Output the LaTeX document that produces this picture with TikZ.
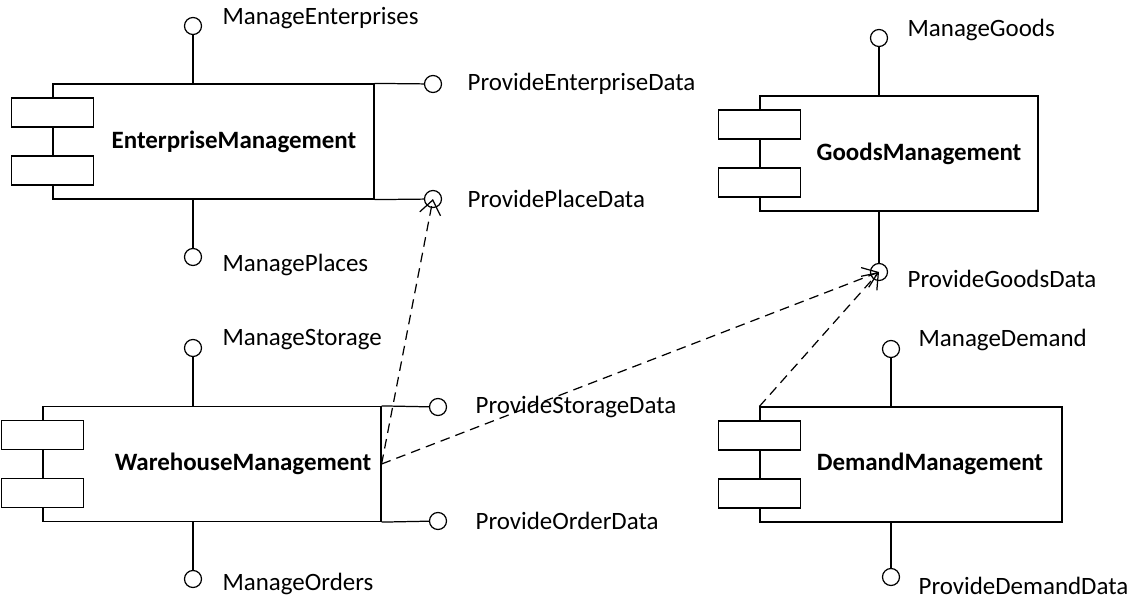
\documentclass[tikz,border=0pt]{standalone}
\usepackage{fontspec}
\setmainfont{Carlito}
\usetikzlibrary{arrows.meta, positioning}

\begin{document}
\begin{tikzpicture}[x=0.02cm, y=-0.02cm, line width=0.7pt,
  every node/.style={font=\fontsize{14.2}{17}\selectfont},
  comp/.style={draw, fill=white, inner sep=0pt, minimum height=2.30cm},
  part/.style={draw, fill=white, minimum width=1.64cm, minimum height=0.58cm, inner sep=0pt},
  iface/.style={draw, circle, fill=white, minimum size=0.34cm, inner sep=0pt},
  iname/.style={anchor=west, inner sep=0pt},
  title/.style={font=\fontsize{14.2}{17}\selectfont\bfseries},
  dep/.style={dash pattern=on 5.5pt off 3.5pt, -{Straight Barb[length=8pt,width=12pt]}}]
\useasboundingbox (0,0) rectangle (1133,599);
% Components
\node[comp, minimum width=6.42cm] (Enterprise) at (213.5,141.5) {};
\node[comp, minimum width=6.76cm] (Warehouse) at (212,464) {};
\node[comp, minimum width=5.56cm] (Goods) at (899,153.5) {};
\node[comp, minimum width=6.04cm] (Demand) at (911,464.5) {};
% Small rectangles on the left edges
\node[part] (EnterpriseTop) at ([yshift=0.58cm]Enterprise.west) {};
\node[part] (EnterpriseBottom) at ([yshift=-0.58cm]Enterprise.west) {};
\node[part] (WarehouseTop) at ([yshift=0.58cm]Warehouse.west) {};
\node[part] (WarehouseBottom) at ([yshift=-0.58cm]Warehouse.west) {};
\node[part] (GoodsTop) at ([yshift=0.58cm]Goods.west) {};
\node[part] (GoodsBottom) at ([yshift=-0.58cm]Goods.west) {};
\node[part] (DemandTop) at ([yshift=0.58cm]Demand.west) {};
\node[part] (DemandBottom) at ([yshift=-0.58cm]Demand.west) {};
% Titles
\node[title] (EnterpriseTitle) at (234,142) {EnterpriseManagement};
\node[title] (WarehouseTitle) at (243,464) {WarehouseManagement};
\node[title] (GoodsTitle) at (919,154) {GoodsManagement};
\node[title] (DemandTitle) at (930,464) {DemandManagement};
% Interfaces
\node[iface] (ManageEnterprises) at (193,26) {};
\node[iface] (ManagePlaces) at (193,257) {};
\node[iface] (ProvideEnterpriseData) at (433,84) {};
\node[iface] (ProvidePlaceData) at (433,199) {};
\node[iface] (ManageStorage) at (193,348) {};
\node[iface] (ManageOrders) at (193,579) {};
\node[iface] (ProvideStorageData) at (438,407) {};
\node[iface] (ProvideOrderData) at (438,521) {};
\node[iface] (ManageGoods) at (879,38) {};
\node[iface] (ProvideGoodsData) at (879,272) {};
\node[iface] (ManageDemand) at (891,349) {};
\node[iface] (ProvideDemandData) at (891,577) {};
% Interface names
\node[iname] (ManageEnterprisesText) at (222,18) {ManageEnterprises};
\node[iname] (ManagePlacesText) at (222,265) {ManagePlaces};
\node[iname] (ProvideEnterpriseDataText) at (467,84) {ProvideEnterpriseData};
\node[iname] (ProvidePlaceDataText) at (467,199) {ProvidePlaceData};
\node[iname] (ManageStorageText) at (222,340) {ManageStorage};
\node[iname] (ManageOrdersText) at (222,584) {ManageOrders};
\node[iname] (ProvideStorageDataText) at (475,407) {ProvideStorageData};
\node[iname] (ProvideOrderDataText) at (475,521) {ProvideOrderData};
\node[iname] (ManageGoodsText) at (907,30) {ManageGoods};
\node[iname] (ProvideGoodsDataText) at (907,279) {ProvideGoodsData};
\node[iname] (ManageDemandText) at (918,340) {ManageDemand};
\node[iname] (ProvideDemandDataText) at (918,586) {ProvideDemandData};
% Lollipop stems
\draw (Enterprise.north -| ManageEnterprises) -- (ManageEnterprises);
\draw (Enterprise.south -| ManagePlaces) -- (ManagePlaces);
\draw (Enterprise.north east) -- (ProvideEnterpriseData);
\draw (Enterprise.south east) -- (ProvidePlaceData);
\draw (Warehouse.north -| ManageStorage) -- (ManageStorage);
\draw (Warehouse.south -| ManageOrders) -- (ManageOrders);
\draw (Warehouse.north east) -- (ProvideStorageData);
\draw (Warehouse.south east) -- (ProvideOrderData);
\draw (Goods.north -| ManageGoods) -- (ManageGoods);
\draw (Goods.south -| ProvideGoodsData) -- (ProvideGoodsData);
\draw (Demand.north -| ManageDemand) -- (ManageDemand);
\draw (Demand.south -| ProvideDemandData) -- (ProvideDemandData);
% Dependencies
\draw[dep] (Warehouse.east) -- (ProvidePlaceData.center);
\draw[dep] (Warehouse.east) -- (ProvideGoodsData.center);
\draw[dep] (Demand.north west) -- (ProvideGoodsData.center);
\end{tikzpicture}
\end{document}
